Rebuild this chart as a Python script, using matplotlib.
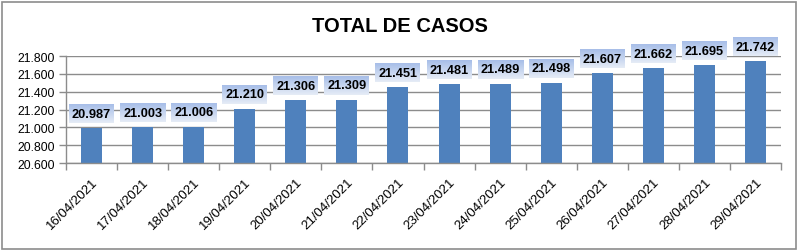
import numpy as np
import matplotlib.pyplot as plt
from matplotlib.patches import Rectangle
from matplotlib.ticker import FuncFormatter

dates = ["16/04/2021", "17/04/2021", "18/04/2021", "19/04/2021", "20/04/2021",
         "21/04/2021", "22/04/2021", "23/04/2021", "24/04/2021", "25/04/2021",
         "26/04/2021", "27/04/2021", "28/04/2021", "29/04/2021"]
casos = [20987, 21003, 21006, 21210, 21306, 21309, 21451,
         21481, 21489, 21498, 21607, 21662, 21695, 21742]
y_ticks = [20600, 20800, 21000, 21200, 21400, 21600, 21800]

plt.rcParams['font.family'] = ['Liberation Sans', 'DejaVu Sans']


def fmt(v):
    # thousands separator as a dot, e.g. 21.800
    return f"{v:,.0f}".replace(",", ".")


W, H = 798, 251
fig = plt.figure(figsize=(W / 100, H / 100), dpi=100)
ax = fig.add_axes([66 / W, 1 - 164 / H, (781 - 66) / W, (164 - 57) / H])

# outer chart border
fig.patches.append(Rectangle((1.5 / W, 1.5 / H), (W - 4) / W, (H - 4) / H,
                             transform=fig.transFigure, fill=False,
                             edgecolor='#8c8c8c', linewidth=1.2))

x = np.arange(len(dates))
ax.bar(x, casos, width=0.41, color='#4f81bd', zorder=3)

ax.set_xlim(-0.5, len(dates) - 0.5)
ax.set_ylim(y_ticks[0], y_ticks[-1])
ax.set_yticks(y_ticks)
ax.yaxis.set_major_formatter(FuncFormatter(lambda v, p: fmt(v)))
ax.grid(axis='y', color='#8c8c8c', linewidth=1, zorder=0)

ax.set_xticks(x)
ax.set_xticklabels(dates, rotation=45, ha='right', va='top', rotation_mode='anchor', fontsize=9.5)
ax.set_xticks(np.arange(len(dates) + 1) - 0.5, minor=True)
ax.tick_params(axis='x', which='major', length=0, pad=9)
ax.tick_params(axis='x', which='minor', length=5, color='#8c8c8c', width=1)
ax.tick_params(axis='y', length=5, color='#8c8c8c', width=1, labelsize=8.8, pad=3)

for s in ['top', 'right']:
    ax.spines[s].set_visible(False)
for s in ['left', 'bottom']:
    ax.spines[s].set_color('#8c8c8c')
    ax.spines[s].set_linewidth(1)
ax.spines['bottom'].set_zorder(4)

fig.text(400 / W, 1 - 27 / H, "TOTAL DE CASOS", ha='center', va='center',
         fontsize=14.5, fontweight='bold')

# gradient label boxes above each bar
grad = np.linspace(0, 1, 50).reshape(-1, 1)
top_c = np.array([0.655, 0.745, 0.910])
bot_c = np.array([0.900, 0.925, 0.965])
img = (top_c * (1 - grad) + bot_c * grad).reshape(50, 1, 3)

inv = ax.transData.inverted()
bw, bh, gap = 45, 19, 5
for i, v in enumerate(casos):
    px, py = ax.transData.transform((i, v))
    x0, y0 = inv.transform((px - bw / 2, py + gap))
    x1, y1 = inv.transform((px + bw / 2, py + gap + bh))
    ax.imshow(img, extent=(x0, x1, y0, y1), aspect='auto', zorder=5, clip_on=False)
    ax.text(i, (y0 + y1) / 2, fmt(v), ha='center', va='center',
            fontsize=9.2, fontweight='bold', zorder=6, clip_on=False)

ax.set_xlim(-0.5, len(dates) - 0.5)
ax.set_ylim(y_ticks[0], y_ticks[-1])

fig.savefig("out.png", dpi=100)
